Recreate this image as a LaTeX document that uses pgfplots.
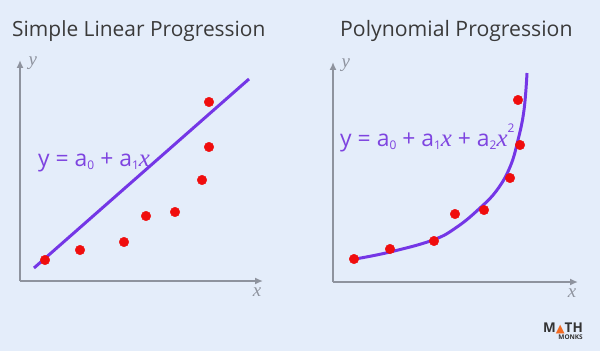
\documentclass[border=0pt]{standalone}
\usepackage{fontspec}
\setmainfont{Open Sans}
\newfontfamily\serifx{Liberation Serif}
\newfontfamily\dejavu{DejaVu Sans}
\usepackage{pgfplots}
\pgfplotsset{compat=1.18}
\usetikzlibrary{arrows.meta}
\definecolor{bg}{HTML}{E4EDFA}
\definecolor{axgray}{HTML}{8E939E}
\definecolor{ttl}{HTML}{3A3A3A}
\definecolor{lin}{HTML}{7436E6}
\definecolor{eqc}{HTML}{7E44E0}
\definecolor{dot}{HTML}{F00D0D}
\definecolor{logoorange}{HTML}{F26A21}
\definecolor{logodark}{HTML}{333333}
\newcommand{\sub}[1]{\raisebox{-0.3ex}{\fontsize{12}{12}\selectfont #1}}
\newcommand{\sups}[1]{\raisebox{1.1ex}{\fontsize{12}{12}\selectfont #1}}
\newcommand{\vx}{{\serifx\itshape\fontsize{25}{25}\selectfont x}}
\pgfplotsset{
  myax/.style={
    scale only axis, axis lines=left, clip=false,
    xtick=\empty, ytick=\empty,
    axis line style={draw=axgray, line width=2.2pt, -{Latex[length=8pt,width=7pt]}},
    xmin=0, ymin=0,
  },
  dots/.style={only marks, mark=*, mark size=4.8pt, color=dot, mark options={draw=dot, fill=dot}},
}
\begin{document}
\begin{tikzpicture}[x=1bp,y=1bp]
\fill[bg] (0,0) rectangle (600,351);
\useasboundingbox (0,0) rectangle (600,351);
\node[anchor=base west, text=ttl, font=\fontsize{21}{21}\selectfont, inner sep=0pt] at (12,315) {Simple Linear Progression};
\node[anchor=base west, text=ttl, font=\fontsize{21.3}{21.3}\selectfont, inner sep=0pt] at (340,315) {Polynomial Progression};
% left
\begin{axis}[myax, at={(20bp,70bp)}, anchor=south west, width=243bp, height=221bp, xmax=243, ymax=221]
\addplot[lin, line width=3pt] coordinates {(14,13) (229,202)};
\addplot[dots] coordinates {(25,21) (60,31) (104,39) (126,65) (155,69) (182,101) (189,134) (189,179)};
\node[anchor=west, text=axgray, font=\serifx\itshape\fontsize{19}{19}\selectfont] at (axis cs:5,218) {y};
\node[anchor=north, text=axgray, font=\serifx\itshape\fontsize{19}{19}\selectfont] at (axis cs:237,-3) {x};
\node[anchor=base west, inner sep=0pt, text=eqc, font=\fontsize{23}{23}\selectfont] at (axis cs:18,115) {y = a\sub{0} + a\sub{1}\vx};
\end{axis}
% right
\begin{axis}[myax, at={(333bp,69bp)}, anchor=south west, width=245bp, height=220bp, xmax=245, ymax=220]
\addplot[lin, line width=3pt, smooth, tension=0.7] coordinates {(22,23) (57,30) (100,42) (124,55) (147,74) (164,92) (177,115) (185,142) (191,172) (194,209)};
\addplot[dots] coordinates {(21,23) (57,33) (101,41) (122,68) (151,72) (177,104) (187,137) (185,182)};
\node[anchor=west, text=axgray, font=\serifx\itshape\fontsize{19}{19}\selectfont] at (axis cs:5,217) {y};
\node[anchor=north, text=axgray, font=\serifx\itshape\fontsize{19}{19}\selectfont] at (axis cs:239,-3) {x};
\node[anchor=base west, inner sep=0pt, text=eqc, font=\fontsize{23}{23}\selectfont] at (axis cs:7,136) {y = a\sub{0} + a\sub{1}\vx{} + a\sub{2}\vx\sups{2}};
\end{axis}
% logo
\node[anchor=base east, inner sep=0pt, text=logodark, font=\bfseries\fontsize{13.5}{13.5}\selectfont] at (583,19) {M{\color{logoorange}\dejavu\fontsize{11.5}{11.5}\selectfont ▲}TH};
\node[anchor=base east, inner sep=0pt, text=logodark, font=\bfseries\fontsize{6.5}{6.5}\selectfont] at (583,12) {MONKS};
\end{tikzpicture}
\end{document}
